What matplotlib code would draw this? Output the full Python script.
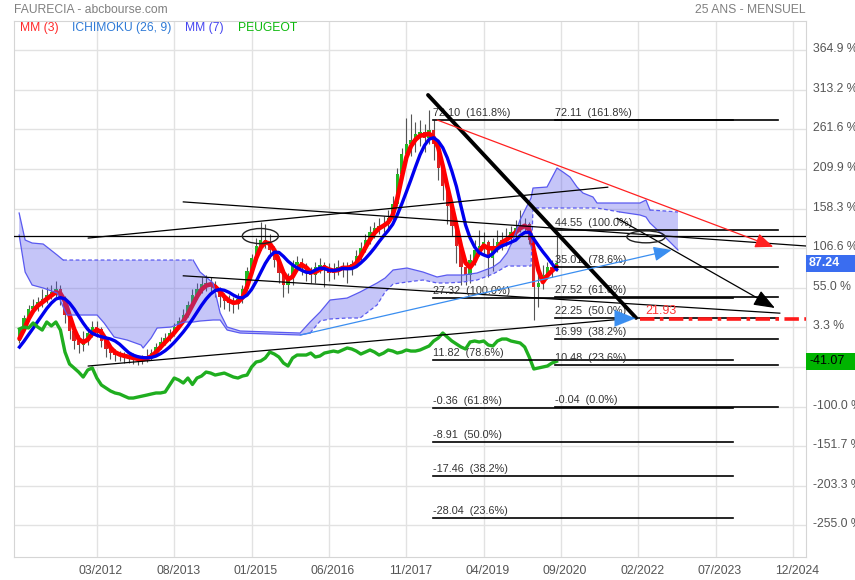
import numpy as np
import pandas as pd
import matplotlib
matplotlib.use("Agg")
import matplotlib.pyplot as plt
from matplotlib.patches import Ellipse, Rectangle
import matplotlib.transforms as mtransforms

plt.rcParams['font.family'] = ['Liberation Sans', 'DejaVu Sans']

# ---------------- data ----------------
first_month = (2010, 4)          # first monthly candle (before the visible window)
first_visible = 6                # index of first visible candle (2010-10)

close = [12.0, 13.0, 14.0, 14.5, 15.5, 16.5,
         19.3, 22.3, 24.5, 25.3, 26.3, 27.0, 28.0, 28.8, 29.5, 27.0,
         23.0, 19.0, 16.5, 15.5, 16.5, 18.5, 20.0, 19.5, 16.5, 14.5,
         13.5, 13.0, 12.8, 12.5, 12.2, 12.0, 11.8, 12.0, 12.5, 13.5,
         15.0, 16.3, 17.2, 18.5, 20.0, 21.5, 23.0, 25.5, 28.0, 29.5,
         30.8, 31.0, 30.5, 29.0, 27.5, 26.5, 26.0, 25.8, 27.0, 29.5,
         34.0, 37.5, 40.5, 42.0, 41.5, 39.5, 37.0, 33.5, 30.5, 32.0,
         35.5, 36.5, 35.0, 33.5, 33.0, 35.0, 35.5, 34.5, 33.5, 34.5,
         35.0, 35.2, 34.5, 35.8, 38.0, 40.0, 42.0, 44.0, 45.0, 45.5,
         46.0, 47.5, 51.0, 58.5, 63.5, 66.0, 67.0, 68.5, 69.0, 67.5,
         69.5, 66.0, 60.0, 55.5, 50.5, 45.5, 40.5, 35.0, 33.0, 37.0,
         39.5, 40.5, 41.5, 37.5, 40.5, 41.5, 42.0, 42.5, 44.0, 45.0,
         45.5, 46.0, 42.0, 30.0, 31.0, 33.0, 35.0, 34.5, 36.1]
open_ = [11.5] + close[:-1]
high = [12.5, 13.5, 14.5, 15.0, 16.0, 17.0,
        19.8, 23.0, 25.5, 27.0, 27.5, 29.5, 30.0, 30.5, 31.5, 30.5,
        27.8, 23.5, 20.0, 18.0, 19.0, 20.0, 21.5, 21.5, 20.0, 17.0,
        15.5, 14.5, 14.0, 13.8, 13.5, 13.5, 13.0, 13.0, 14.5, 14.5,
        16.0, 17.5, 18.5, 19.5, 21.0, 22.5, 24.5, 26.5, 29.5, 31.0,
        32.5, 33.0, 32.5, 31.5, 30.0, 28.5, 28.0, 27.5, 28.5, 30.5,
        35.0, 38.5, 42.5, 46.5, 46.0, 43.5, 40.5, 38.0, 34.5, 33.5,
        37.0, 38.0, 37.5, 36.0, 35.0, 36.5, 37.5, 36.5, 36.0, 36.0,
        37.0, 36.5, 36.5, 37.0, 39.5, 41.5, 43.5, 45.5, 46.5, 47.5,
        48.0, 49.5, 53.0, 60.0, 65.0, 72.5, 73.5, 71.5, 72.0, 71.0,
        74.5, 72.0, 67.0, 61.0, 56.5, 52.0, 47.0, 41.5, 36.0, 38.5,
        42.0, 44.5, 44.0, 42.0, 42.5, 44.5, 44.0, 45.0, 45.5, 47.0,
        49.5, 47.5, 46.5, 43.0, 33.5, 35.5, 36.5, 37.0, 43.0]
low = [11.0, 12.0, 13.0, 13.5, 14.5, 15.5,
       16.0, 18.8, 21.5, 23.5, 24.0, 25.0, 26.0, 27.0, 27.5, 25.5,
       21.0, 17.0, 14.5, 13.5, 14.0, 15.5, 17.5, 17.5, 15.0, 12.5,
       12.0, 11.5, 11.5, 11.0, 11.0, 10.8, 10.5, 10.8, 11.2, 11.8,
       13.0, 14.5, 15.5, 16.5, 17.8, 19.5, 21.0, 22.5, 25.0, 27.0,
       28.5, 29.0, 28.5, 27.5, 25.0, 24.5, 24.0, 23.5, 24.5, 26.0,
       29.0, 33.0, 36.5, 39.5, 40.0, 37.5, 35.0, 31.0, 27.5, 28.5,
       30.5, 34.0, 33.0, 31.5, 31.0, 31.0, 33.5, 30.0, 31.5, 32.0,
       33.0, 32.5, 31.0, 33.0, 35.0, 37.0, 39.0, 41.0, 42.5, 43.5,
       44.0, 45.0, 46.5, 50.5, 57.0, 62.5, 63.0, 64.0, 65.5, 64.0,
       66.0, 62.0, 57.0, 52.0, 46.0, 43.0, 36.0, 30.5, 30.5, 31.0,
       35.5, 38.0, 38.5, 32.5, 34.0, 39.0, 39.5, 40.5, 41.0, 42.5,
       44.0, 44.0, 41.0, 21.8, 25.0, 29.5, 32.0, 32.5, 34.0]

peugeot_pct = [1.2, 3.8, 2.5, 9.0, 3.8, -0.2, 10.3, 5.1, 10.3, -0.2,
               -28.9, -44.5, -49.7, -55.0, -61.5, -52.3, -49.7, -62.8, -71.9, -75.8,
               -79.7, -82.3, -83.6, -86.3, -88.9, -88.9, -87.6, -86.3, -85.0, -83.6,
               -82.3, -82.3, -81.0, -71.9, -62.8, -65.4, -69.3, -62.8, -71.2, -62.8,
               -60.2, -55.0, -56.3, -58.9, -57.6, -56.3, -58.9, -61.5, -62.8, -60.2,
               -58.9, -48.4, -41.9, -40.6, -36.7, -28.9, -31.5, -35.4, -43.2, -47.1,
               -36.7, -32.8, -32.8,
               -32.8, -30.2, -35.4, -34.1, -30.2, -28.9, -27.6, -28.9, -26.2, -23.6,
               -24.9, -27.6, -31.5, -28.9, -26.2, -28.9, -32.8, -30.2, -26.2, -27.6,
               -30.2, -28.9, -26.2, -27.6, -27.6,
               -26.2, -23.6, -21.0, -14.5, -10.6, -4.1, -9.3, -14.5, -18.4, -22.3,
               -24.9, -15.8, -14.5, -15.8, -14.5, -19.7, -21.0, -14.5, -11.9, -11.9,
               -14.5, -15.8, -17.1, -22.3, -35.4, -51.0, -49.7, -48.4, -47.1, -43.2, -41.07]

# Ichimoku cloud: decimal year, upper edge, lower edge (price)
cloud_x = [2010.744, 2010.854, 2010.982, 2011.184, 2011.440, 2011.550, 2011.623,
           2012.172, 2012.300, 2012.483, 2012.721, 2012.977, 2013.014, 2013.161,
           2013.270, 2013.527, 2013.764, 2013.929, 2014.057, 2014.295, 2014.424,
           2014.552, 2014.790, 2015.888, 2016.071, 2016.254, 2016.437, 2016.748,
           2016.986, 2017.297, 2017.444, 2017.590, 2017.846, 2018.139, 2018.395,
           2018.578, 2018.871, 2019.127, 2019.420, 2019.548, 2019.676, 2019.786,
           2019.914, 2020.097, 2020.116, 2020.152, 2020.409, 2020.592, 2020.701,
           2020.829, 2020.958, 2021.067, 2021.250, 2021.324, 2021.745, 2022.111,
           2022.220, 2022.294, 2022.568, 2022.806]
cloud_upper = [48.70, 41.91, 41.15, 40.90, 38.13, 36.87, 36.87,
               36.87, 36.87, 36.87, 36.87, 36.87, 36.87, 36.87,
               36.87, 36.87, 36.87, 36.87, 33.85, 31.09, 23.54,
               20.01, 19.01, 18.50, 21.27, 23.79, 26.81, 27.30,
               28.82, 31.09, 32.34, 34.36, 34.86, 33.85, 32.60,
               33.10, 33.10, 33.60, 35.11, 36.37, 38.64, 41.91,
               46.94, 51.97, 52.48, 54.99, 55.24, 60.02, 59.02,
               57.76, 55.24, 53.73, 52.73, 51.22, 51.22, 51.22,
               51.97, 49.46, 49.21, 48.95]
cloud_lower = [43.16, 33.85, 30.58, 29.83, 28.57, 25.05, 23.03,
               23.03, 21.02, 17.50, 16.74, 15.48, 14.73, 17.25,
               19.76, 20.01, 21.27, 21.27, 21.52, 21.78, 21.78,
               19.26, 18.50, 18.00, 18.50, 21.52, 22.03, 22.28,
               22.28, 25.55, 28.82, 30.83, 31.34, 31.84, 31.09,
               31.09, 31.34, 31.84, 33.35, 34.36, 35.36, 35.36,
               35.36, 35.36, 35.36, 49.96, 49.96, 49.96, 49.96,
               49.96, 49.96, 49.96, 49.96, 49.96, 48.95, 48.20,
               47.70, 46.18, 42.66, 39.39]
upper_dashed = [(2011.55, 2013.93), (2022.29, 2022.81)]
lower_dashed = [(2015.89, 2022.11)]

fib_a_levels = [72.10, 27.32, 11.82, -0.36, -8.91, -17.46, -28.04]
fib_a_pcts = ["161.8%", "100.0%", "78.6%", "61.8%", "50.0%", "38.2%", "23.6%"]
fib_a_span = (2018.32, 2023.81)
fib_b_levels = [72.11, 44.55, 35.01, 27.52, 22.25, 16.99, 10.48, -0.04]
fib_b_pcts = ["161.8%", "100.0%", "78.6%", "61.8%", "50.0%", "38.2%", "23.6%", "0.0%"]
fib_b_span = (2020.56, 2024.63)

# hand-drawn trend lines: ((x0, p0), (x1, p1))
thick_line = ((2018.23, 78.4), (2022.04, 22.3))
thin_lines = [((2010.65, 42.9), (2025.15, 42.9)),
              ((2012.01, 42.4), (2021.52, 55.2)),
              ((2013.75, 51.5), (2025.15, 40.4)),
              ((2013.75, 32.9), (2024.67, 23.5)),
              ((2012.01, 10.2), (2022.04, 22.3))]
black_arrow = ((2021.69, 47.4), (2024.58, 24.8))
red_arrow = ((2018.40, 72.1), (2024.55, 40.2))
blue_arrow = ((2015.89, 18.0), (2022.69, 39.4))
blue_pointer = ((2021.85, 22.2), (2022.03, 22.2))
ellipses = [(2015.16, 42.9, 0.66, 3.8), (2022.22, 42.7, 0.70, 3.0)]
support_level = 21.93
support_start = 2022.11

pct_ticks = [364.9, 313.2, 261.6, 209.9, 158.3, 106.6, 55.0, 3.3, -48.4,
             -100.0, -151.7, -203.3, -255.0]
hidden_tick = -48.4              # covered by the PEUGEOT value box
base_price = 19.29
x_tick_labels = ["03/2012", "08/2013", "01/2015", "06/2016", "11/2017",
                 "04/2019", "09/2020", "02/2022", "07/2023", "12/2024"]
last_pct_label = 87.24
peugeot_label = -41.07

# ---------------- figure ----------------
W, H = 855, 580
fig = plt.figure(figsize=(W / 100, H / 100), dpi=100)
ax = fig.add_axes([14 / W, 1 - 557 / H, (806 - 14) / W, (557 - 21) / H])
ax.set_xlim(2010.65, 2025.15)
ax.set_ylim(-37.86, 97.02)

n = len(close)
xs = first_month[0] + (first_month[1] - 1 + np.arange(n)) / 12.0
cl = pd.Series(close)
mm3 = cl.rolling(3).mean()
mm7 = cl.rolling(7).mean()

# grid
pct_prices = [base_price * (1 + p / 100) for p in pct_ticks]
xt = [int(s[3:]) + (int(s[:2]) - 1) / 12 for s in x_tick_labels]
for yv in pct_prices:
    ax.axhline(yv, color='#e2e2e2', lw=1, zorder=0)
for xv in xt:
    ax.axvline(xv, color='#e2e2e2', lw=1, zorder=0)

# candles
for i in range(first_visible, n):
    o, c, h, l = open_[i], close[i], high[i], low[i]
    col = '#22b822' if c >= o else '#dd2222'
    ax.vlines(xs[i], l, h, color='#555555', lw=0.8, zorder=2)
    ax.bar(xs[i], max(abs(c - o), 0.25), bottom=min(o, c), width=0.06,
           color=col, edgecolor=col, lw=0, zorder=2.5)

ax.plot(xs[first_visible:], mm3[first_visible:], color='#ff0000', lw=3.3,
        solid_capstyle='round', zorder=3)

# ichimoku cloud
cx_ = np.array(cloud_x)
cu = np.array(cloud_upper)
clo = np.array(cloud_lower)
ax.fill_between(cx_, cu, clo, facecolor=(0.35, 0.35, 0.93), alpha=0.35, lw=0, zorder=4)

def edge(yv, dashed):
    m = np.zeros(len(cx_), bool)
    for a, b in dashed:
        m |= (cx_ >= a - 1e-6) & (cx_ <= b + 1e-6)
    solid = yv.copy()
    inner = m.copy()
    inner[1:-1] = m[1:-1] & m[:-2] & m[2:]
    solid[inner] = np.nan
    dash = np.where(m, yv, np.nan)
    ax.plot(cx_, solid, color='#5a5af0', lw=0.9, zorder=4.1)
    ax.plot(cx_, dash, color='#5a5af0', lw=0.9, ls=(0, (3, 2)), zorder=4.1)

edge(cu, upper_dashed)
edge(clo, lower_dashed)

ax.plot(xs[first_visible:], mm7[first_visible:], color='#0000ee', lw=2.4, zorder=5)

px = xs[first_visible:first_visible + len(peugeot_pct)]
ax.plot(px, [base_price * (1 + v / 100) for v in peugeot_pct], color='#1fae1f',
        lw=2.4, zorder=5)

# fibonacci
def fib(levels, pcts, span, lbl_x):
    for lv, pc in zip(levels, pcts):
        ax.plot(span, [lv, lv], color='black', lw=1.2, zorder=6)
        ax.text(lbl_x, lv + 0.5, f"{lv:.2f}  ({pc})", fontsize=7.8, color='#333333',
                ha='left', va='bottom', zorder=7)

fib(fib_a_levels, fib_a_pcts, fib_a_span, fib_a_span[0])
fib(fib_b_levels, fib_b_pcts, fib_b_span, fib_b_span[0])

# trend lines
(x0, y0), (x1, y1) = thick_line
ax.plot([x0, x1], [y0, y1], color='black', lw=2.8, zorder=7, solid_capstyle='round')
for (a, b), (c, d) in thin_lines:
    ax.plot([a, c], [b, d], color='black', lw=0.9, zorder=6)

def arrow(seg, col, lw, hl, hw):
    (a, b), (c, d) = seg
    ax.annotate('', xy=(c, d), xytext=(a, b),
                arrowprops=dict(arrowstyle=f'-|>,head_length={hl},head_width={hw}',
                                color=col, lw=lw, shrinkA=0, shrinkB=0),
                zorder=7)

arrow(black_arrow, 'black', 0.9, 1.3, 0.5)
arrow(red_arrow, '#ff2020', 0.9, 1.1, 0.45)
arrow(blue_arrow, '#3a8ef0', 0.9, 1.1, 0.45)
arrow(blue_pointer, '#3a8ef0', 0.1, 1.5, 0.6)

for ex, ey, w, h in ellipses:
    ax.add_patch(Ellipse((ex, ey), w, h, fill=False, edgecolor='#222222', lw=1, zorder=7))

ax.plot([support_start, 2025.15], [support_level, support_level], color='#ff1a1a',
        lw=2.6, ls=(0, (4, 1.5, 1, 1.5)), zorder=7)
ax.text(support_start + 0.1, support_level + 0.6, f"{support_level:.2f}", color='#ff3333',
        fontsize=9, ha='left', va='bottom', zorder=8)

# axes styling
for s in ax.spines.values():
    s.set_color('#d5d5d5')
ax.yaxis.tick_right()
ax.set_yticks(pct_prices)
ax.set_yticklabels(["" if p == hidden_tick else f"{p:.1f} %" for p in pct_ticks],
                   fontsize=8.8, color='#555555')
ax.set_xticks(xt)
ax.set_xticklabels(x_tick_labels, fontsize=8.8, color='#555555')
ax.tick_params(axis='x', length=0, pad=6)
ax.tick_params(axis='y', length=0, pad=5)
off = mtransforms.ScaledTranslation(4 / 100, 0, fig.dpi_scale_trans)
for lab in ax.get_xticklabels():
    lab.set_transform(lab.get_transform() + off)
offy = mtransforms.ScaledTranslation(0, 2.5 / 100, fig.dpi_scale_trans)
for lab in ax.get_yticklabels():
    lab.set_transform(lab.get_transform() + offy)

# value boxes on right axis
blend = mtransforms.blended_transform_factory(fig.transFigure, ax.transData)
for val, fc, tc, fw in [(last_pct_label, '#3a6df0', 'white', 'bold'),
                        (peugeot_label, '#00b400', 'black', 'normal')]:
    yv = base_price * (1 + val / 100)
    hh = 17 / 3.974 / 2
    ax.add_patch(Rectangle((806 / W, yv - hh), 49 / W, 2 * hh, transform=blend,
                           fc=fc, ec='none', clip_on=False, zorder=10))
    ax.text(809 / W, yv, f"{val:.2f}", transform=blend, fontsize=9, color=tc,
            fontweight=fw, va='center', ha='left', clip_on=False, zorder=11)

# titles & legend
fig.text(14 / W, 1 - 10 / H, "FAURECIA - abcbourse.com", fontsize=8.7, color='#808080',
         ha='left', va='center')
fig.text(806 / W, 1 - 10 / H, "25 ANS - MENSUEL", fontsize=8.7, color='#808080',
         ha='right', va='center')
legend = [("MM (3)", '#ff2a2a', 20), ("ICHIMOKU (26, 9)", '#2f7ad6', 72),
          ("MM (7)", '#4646f0', 185), ("PEUGEOT", '#0cb80c', 238)]
for txt, col, xpx in legend:
    fig.text(xpx / W, 1 - 28 / H, txt, fontsize=8.7, color=col, ha='left', va='center')

fig.savefig("out.png", dpi=100, facecolor='white')
